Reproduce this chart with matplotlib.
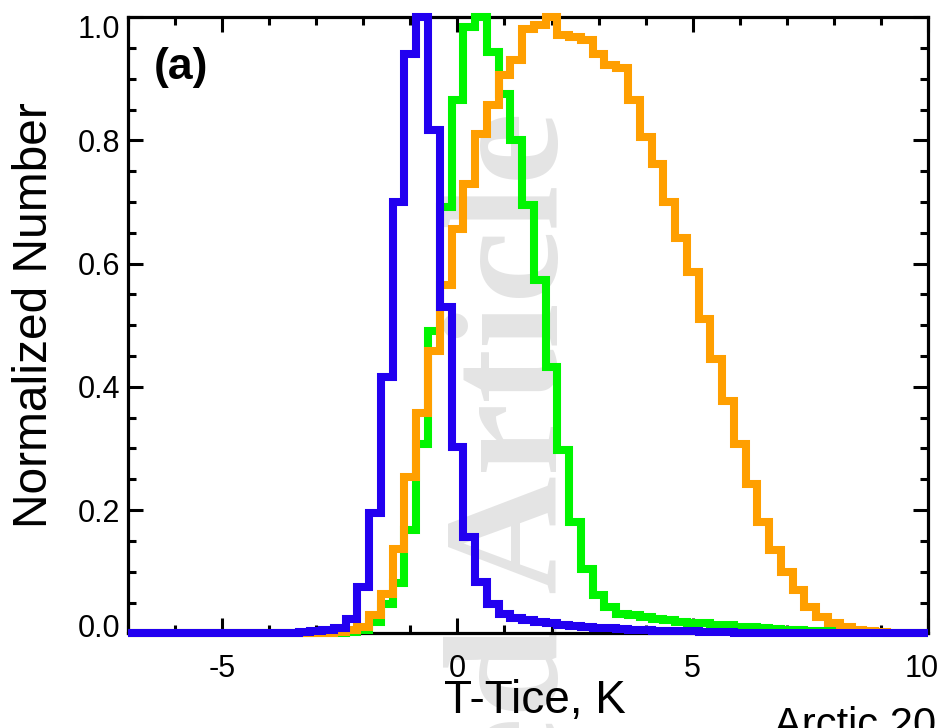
import numpy as np
import matplotlib.pyplot as plt
from matplotlib.ticker import MultipleLocator, FixedLocator
from matplotlib.patches import Rectangle
from matplotlib.transforms import ScaledTranslation

plt.rcParams['font.family'] = ['Liberation Sans', 'DejaVu Sans']
plt.rcParams['axes.unicode_minus'] = False

# histogram bins: width 0.25 K, centres on multiples of 0.25
bin_width = 0.25
x_min, x_max = -7.0, 10.0

# blue
blue_start = -4.0
blue_vals = [0.0005, 0.001, 0.001, 0.002, 0.003, 0.005, 0.008, 0.024, 0.075, 0.195,
             0.416, 0.70, 0.94, 1.0, 0.817, 0.53, 0.303, 0.157, 0.084, 0.048,
             0.031, 0.025, 0.021, 0.018, 0.016, 0.014, 0.012, 0.011, 0.009, 0.008,
             0.007, 0.006, 0.005, 0.004, 0.004, 0.003, 0.003, 0.002, 0.002, 0.002,
             0.001, 0.001, 0.001, 0.001, 0.0005]

# green
green_start = -2.5
green_vals = [0.001, 0.002, 0.006, 0.018, 0.048, 0.081, 0.167, 0.308, 0.49, 0.692,
              0.865, 0.985, 1.0, 0.944, 0.876, 0.80, 0.695, 0.573, 0.432, 0.297,
              0.181, 0.105, 0.062, 0.043, 0.032, 0.029, 0.026, 0.023, 0.021, 0.019,
              0.017, 0.016, 0.014, 0.013, 0.011, 0.010, 0.008, 0.007, 0.006, 0.005,
              0.004, 0.0035, 0.003, 0.0025, 0.002, 0.0015, 0.001, 0.001, 0.0005]

# orange
orange_start = -3.0
orange_vals = [0.0005, 0.001, 0.002, 0.005, 0.010, 0.029, 0.064, 0.137, 0.254, 0.358,
               0.459, 0.565, 0.657, 0.73, 0.81, 0.857, 0.906, 0.93, 0.981, 0.987,
               1.0, 0.971, 0.968, 0.963, 0.941, 0.922, 0.918, 0.865, 0.806, 0.762,
               0.70, 0.641, 0.587, 0.511, 0.445, 0.377, 0.308, 0.243, 0.181, 0.135,
               0.10, 0.07, 0.043, 0.026, 0.016, 0.010, 0.006, 0.004, 0.002, 0.001,
               0.0005]

centers = np.arange(x_min, x_max + bin_width / 2, bin_width)
edges = np.append(centers - bin_width / 2, centers[-1] + bin_width / 2)


def full_hist(start, vals):
    h = np.zeros(len(centers))
    i0 = int(round((start - x_min) / bin_width))
    h[i0:i0 + len(vals)] = vals
    return h


fig = plt.figure(figsize=(9.48, 7.28), dpi=100)
ax = fig.add_axes([128 / 948, (728 - 633.3) / 728, 800 / 948, 616 / 728])
ax.patch.set_visible(False)

clip = Rectangle((0, -0.03), 1, 1.06, transform=ax.transAxes)
for vals, start, col in [(green_vals, green_start, '#00f500'),
                         (orange_vals, orange_start, '#ff9f00'),
                         (blue_vals, blue_start, '#2200f0')]:
    st = ax.stairs(full_hist(start, vals), edges, baseline=None, color=col,
                   linewidth=5.8, zorder=3)
    st.set_joinstyle('miter')
    st.set_capstyle('butt')
    st.set_clip_path(clip)

ax.set_xlim(x_min, x_max)
ax.set_ylim(0, 1)
ax.xaxis.set_major_locator(FixedLocator([-5, 0, 5, 10]))
ax.xaxis.set_minor_locator(MultipleLocator(1))
ax.yaxis.set_major_locator(MultipleLocator(0.2))
ax.yaxis.set_minor_locator(MultipleLocator(0.05))
ax.yaxis.set_major_formatter(plt.FormatStrFormatter('%.1f'))
ax.tick_params(which='both', direction='in', top=True, right=True, width=2.2)
ax.tick_params(which='major', length=11)
ax.tick_params(which='minor', length=5.8)
ax.tick_params(axis='y', labelsize=22, pad=5.5)
ax.tick_params(axis='x', labelsize=22, pad=15)
for s in ax.spines.values():
    s.set_linewidth(2.3)

# IDL-style nudges of the end labels
fig.canvas.draw()
yt = ax.yaxis.get_major_ticks()
for t in yt:
    if abs(t.get_loc()) < 1e-6:
        t.label1.set_transform(t.label1.get_transform() + ScaledTranslation(0, 8 / 100, fig.dpi_scale_trans))
    if abs(t.get_loc() - 1) < 1e-6:
        t.label1.set_transform(t.label1.get_transform() + ScaledTranslation(0, -9 / 100, fig.dpi_scale_trans))
for t in ax.xaxis.get_major_ticks():
    if abs(t.get_loc() - 10) < 1e-6:
        t.label1.set_transform(t.label1.get_transform() + ScaledTranslation(-6 / 100, 0, fig.dpi_scale_trans))

fig.text(35 / 948, 1 - 315 / 728, 'Normalized Number', rotation=90, fontsize=34.5,
         ha='center', va='center')
fig.text(535 / 948, 15 / 728, 'T-Tice, K', fontsize=33, ha='center', va='baseline')
fig.text(154 / 948, 1 - 67 / 728, '(a)', fontsize=32, fontweight='bold',
         ha='left', va='center')

# watermark of the accepted-article version
fig.text(518 / 948, 1 - 112 / 728, 'Accepted Article', rotation=90, fontsize=118,
         family='Liberation Serif', fontweight='bold', color='#e4e4e4',
         ha='center', va='top', zorder=-1)
fig.text(774 / 948, 1 - 706 / 728, 'Arctic 20', fontsize=30, ha='left', va='top')

fig.savefig('out.png', dpi=100)
